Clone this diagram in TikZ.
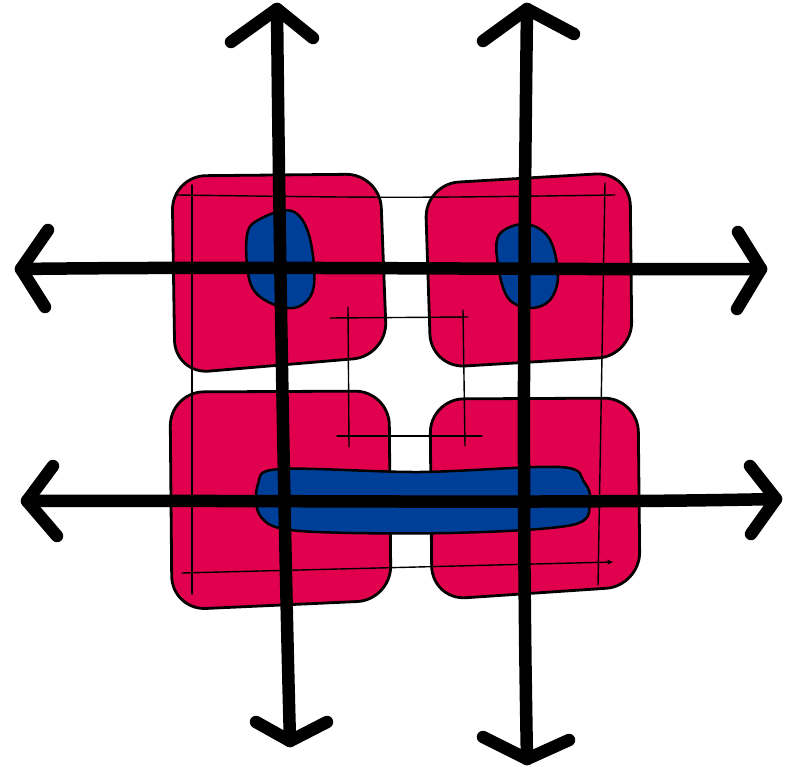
\documentclass[tikz,border=0pt]{standalone}
\usetikzlibrary{arrows.meta}
\definecolor{boxred}{RGB}{224,0,77}
\definecolor{blobblue}{RGB}{0,63,152}
\tikzset{
  redbox/.style={fill=boxred,draw=black,line width=2.8pt,rounded corners=34pt,line join=round},
  blob/.style={fill=blobblue,draw=black,line width=2.5pt,line join=round},
  thin/.style={draw=black,line width=1.4pt,line cap=round},
  thick/.style={draw=black,line width=12.5pt,line cap=round,line join=round}
}
\begin{document}
\begin{tikzpicture}[x=1pt,y=-1pt]
\useasboundingbox (0,0) rectangle (792,767);
\fill[white] (0,0) rectangle (792,767);

% red squares
\draw[redbox] (172,176) -- (380,174) -- (387,356) -- (175,374) -- cycle;
\draw[redbox] (425,184) -- (630,172) -- (632,356) -- (431,368) -- cycle;
\draw[redbox] (170,392) -- (389,391) -- (391,600) -- (172,610) -- cycle;
\draw[redbox] (430,399) -- (638,398) -- (640,586) -- (432,600) -- cycle;

% blue blobs
\draw[blob] plot[smooth cycle,tension=0.6] coordinates {(262,218) (292,211) (309,235) (314,285) (300,306) (275,305) (251,285) (247,235)};
\draw[blob] plot[smooth cycle,tension=0.6] coordinates {(499,235) (525,224) (549,238) (558,275) (550,300) (530,308) (508,298) (498,265)};
\draw[blob] plot[smooth cycle,tension=0.55] coordinates {(258,484) (280,469) (420,472) (560,467) (584,482) (590,503) (572,525) (450,533) (300,531) (261,517)};

% thin outer frame
\coordinate (ot1) at (177,195); \coordinate (ot2) at (615,195);
\coordinate (ol1) at (192,185); \coordinate (ol2) at (192,594);
\coordinate (ob1) at (182,573); \coordinate (ob2) at (613,562);
\coordinate (or1) at (605,183); \coordinate (or2) at (598,585);
\draw[thin] (ot1) .. controls (400,198) .. (ot2);
\draw[thin] (ol1) -- (ol2);
\draw[thin,-{Stealth[length=6pt,width=5pt]}] (ob1) -- (ob2);
\draw[thin] (or1) -- (or2);

% thin inner frame
\coordinate (it1) at (330,318); \coordinate (it2) at (468,317);
\coordinate (il1) at (348,307); \coordinate (il2) at (349,447);
\coordinate (ib1) at (337,436); \coordinate (ib2) at (482,436);
\coordinate (ir1) at (463,310); \coordinate (ir2) at (465,446);
\draw[thin] (it1) -- (it2);
\draw[thin] (il1) -- (il2);
\draw[thin] (ib1) -- (ib2);
\draw[thin] (ir1) -- (ir2);

% thick arrows
\coordinate (v1t) at (277,9); \coordinate (v1b) at (290,741);
\draw[thick] (v1t) .. controls (280,300) and (286,600) .. (v1b);
\draw[thick] (231,42) -- (v1t) -- (313,38);
\draw[thick] (256,722) -- (v1b) -- (327,722);

\coordinate (v2t) at (527,9); \coordinate (v2b) at (527,759);
\draw[thick] (v2t) .. controls (524,250) and (522,500) .. (v2b);
\draw[thick] (483,41) -- (v2t) -- (574,34);
\draw[thick] (483,737) -- (v2b) -- (569,740);

\coordinate (h1l) at (21,269); \coordinate (h1r) at (761,269);
\draw[thick] (h1l) .. controls (250,266) and (550,270) .. (h1r);
\draw[thick] (48,230) -- (h1l) -- (45,307);
\draw[thick] (738,232) -- (h1r) -- (737,309);

\coordinate (h2l) at (27,501); \coordinate (h2r) at (776,499);
\draw[thick] (h2l) .. controls (250,500) and (550,504) .. (h2r);
\draw[thick] (53,466) -- (h2l) -- (57,536);
\draw[thick] (750,466) -- (h2r) -- (751,534);
\end{tikzpicture}
\end{document}
